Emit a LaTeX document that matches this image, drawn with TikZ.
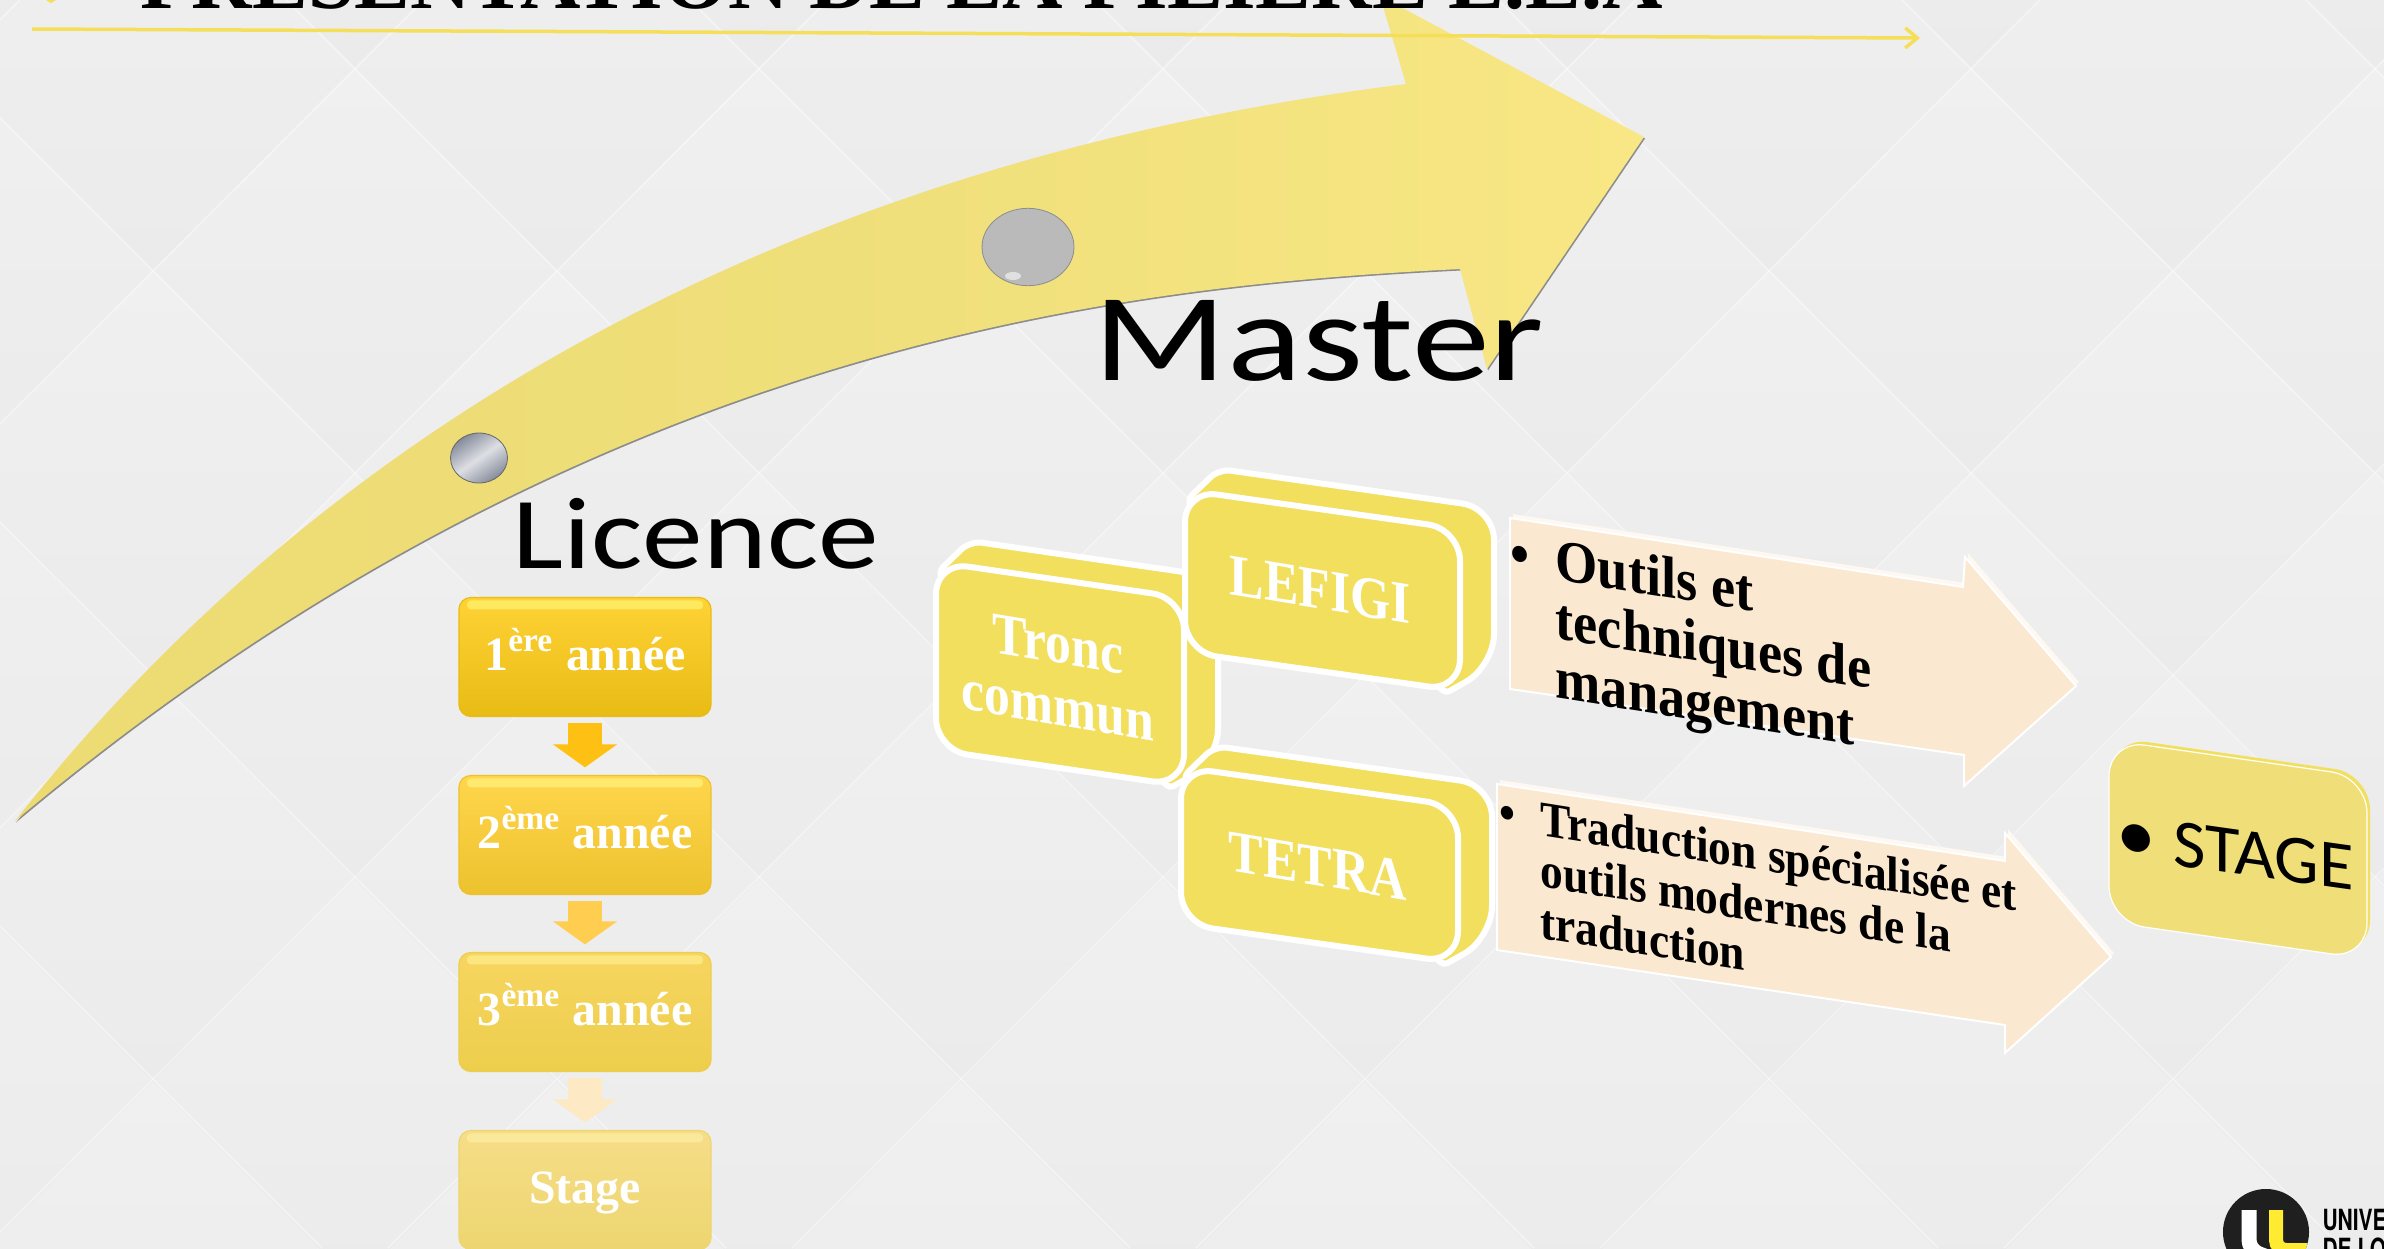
\documentclass[tikz,border=0pt]{standalone}
\usepackage{fontspec}
\setmainfont{Liberation Serif}
\newfontfamily\carlitofont{Carlito}
\newfontfamily\logofont{TeX Gyre Heros}
\usetikzlibrary{arrows.meta,positioning}
\def\flecheout{(1380,-4) -- (1644,137) -- (1487,369) -- (1460,269) .. controls (1150,285) and (600,330) .. (15,821) .. controls (330,420) and (800,160) .. (1406,84) -- cycle}
\def\outilsflat{(1510,518) -- (1963,587) -- (1965,557) -- (2076,686) -- (1964,786) -- (1964,755) -- (1510,689) -- cycle}
\def\tradflat{(1497,784) -- (2005,861) -- (2005,833) -- (2111,957) -- (2005,1053) -- (2005,1025) -- (1497,950) -- cycle}
\def\stageflat{(2109,740) -- (2367,777) -- (2367,959) -- (2109,922) -- cycle}
\definecolor{page back}{HTML}{EEEEEE}
\definecolor{cell top}{HTML}{F0F0F0}
\definecolor{cell low}{HTML}{EBEBEB}
\definecolor{slab fill}{HTML}{F2DF5E}
\definecolor{callout fill}{HTML}{FAE8D0}
\definecolor{rule yellow}{HTML}{F5DF5A}
\definecolor{fleche left}{HTML}{EDDB72}
\definecolor{fleche mid}{HTML}{EFDF7A}
\definecolor{fleche right}{HTML}{F8E784}
\definecolor{stage fill}{HTML}{F0DF78}
\definecolor{logo yellow}{HTML}{FFEB32}
\definecolor{ball edge}{HTML}{858B9B}
\definecolor{ball mid}{HTML}{DDDFE3}
\definecolor{one top}{HTML}{FFD236}
\definecolor{one low}{HTML}{E8BC14}
\definecolor{one strip}{HTML}{FFE95F}
\definecolor{two top}{HTML}{FFD64C}
\definecolor{two low}{HTML}{EDC22E}
\definecolor{two strip}{HTML}{FFE96F}
\definecolor{three top}{HTML}{F7D560}
\definecolor{three low}{HTML}{EDCE4C}
\definecolor{three strip}{HTML}{FBE67F}
\definecolor{four top}{HTML}{F6DD88}
\definecolor{four low}{HTML}{EDD670}
\definecolor{four strip}{HTML}{FAE99A}
\definecolor{step one}{HTML}{FFC014}
\definecolor{step two}{HTML}{FFCD50}
\definecolor{step three}{HTML}{FDE9C4}
\tikzset{x=.01cm,y=-.01cm,
	lattice/.style={white, opacity=.35, line width=.018cm},
	celltone/.style={top color=cell top, bottom color=cell low},
	slab/.style={fill=slab fill, draw=white, line width=.06cm, rounded corners=.32cm},
	callout/.style={fill=callout fill, draw=white, line width=.02cm, line join=miter},
	tilted/.style={xscale=#1, yslant=-.145, transform shape},
	slabtext/.style={text=white, align=center, tilted=.875, font=\fontsize{16.8}{17.6}\selectfont\bfseries},
	yearbox/.style n args={3}{rectangle, rounded corners=.12cm, top color=#1, bottom color=#2, draw=#2,
		line width=.012cm, minimum width=2.52cm, minimum height=1.19cm, inner sep=0pt, text=white,
		text height=.4cm, text depth=.14cm, font=\fontsize{13.6}{15}\selectfont\bfseries,
		path picture={\fill[#3, rounded corners=.04cm] ([xshift=.08cm,yshift=-.03cm]path picture bounding box.north west) rectangle ([xshift=-.08cm,yshift=-.12cm]path picture bounding box.north east);}},
	stepflow/.style={line width=.33cm, -{Triangle[width=.63cm,length=.23cm]}, shorten <=.06cm, shorten >=.075cm},
	biglabel/.style={text=black, inner sep=0pt, transform shape}}
\newcommand{\slabblock}[5]{
	\begin{scope}[shift={(#1,#2)}]
		\draw[slab] (4,8) [rounded corners=.12cm] -- (34,-21) [rounded corners=.32cm] -- (#3+34,#4-21) -- (#3+34,#4+#5-25) [rounded corners=.04cm] -- (#3-14,#4+#5+2) -- (#3-40,#4+#5-20) -- (8,40) -- cycle;
		\draw[slab] (0,0) -- (#3,#4) -- (#3,#4+#5) -- (0,#5) -- cycle;
	\end{scope}}

\begin{document}
\begin{tikzpicture}
		\useasboundingbox (0,0) rectangle (2384,1248);
		\fill[page back] (0,0) rectangle (2384,1248);
		\begin{scope}
			\clip (0,0) rectangle (2384,1248);
			\foreach \i in {-2,...,6} {
				\foreach \j in {-1,...,3} {
					\shade[celltone] (759+404*\i,67+406*\j) -- (961+404*\i,270+406*\j) -- (759+404*\i,473+406*\j) -- (557+404*\i,270+406*\j) -- cycle;
					\shade[celltone] (557+404*\i,270+406*\j) -- (759+404*\i,473+406*\j) -- (557+404*\i,676+406*\j) -- (355+404*\i,473+406*\j) -- cycle;
				}
			}
			\foreach \k in {-4,...,6} {
				\draw[lattice] (286+404*\k,0) -- (1534+404*\k,1248);
				\draw[lattice] (1232+404*\k,0) -- (-16+404*\k,1248);
			}
		\end{scope}
		\fill[rule yellow] (46,0) -- (56,0) -- (51,3) -- cycle;

		\fill[black!45, xshift=.01cm, yshift=-.015cm] \flecheout;
		\shade[left color=fleche left, right color=fleche right, middle color=fleche mid] \flecheout;
		\draw[black!60, line width=.008cm, top color=ball edge, bottom color=ball edge, middle color=ball mid, shading angle=35] (479,458) ellipse [x radius=28.5, y radius=25];
		\draw[black!45, line width=.008cm, fill=black!27] (1028,247) ellipse [x radius=46, y radius=38.7];
		\fill[black!12] (1013,276) ellipse [x radius=8, y radius=4];

		\node[font=\fontsize{23.8}{26}\selectfont\bfseries, anchor=base west, inner sep=0pt] (title) at (140,8) {PRÉSENTATION DE LA FILIÈRE L.E.A};
		\coordinate (rulestart) at (32,29);
		\coordinate (ruleend) at (1920,38);
		\draw[rule yellow, line width=.035cm, -{Straight Barb[width=.2cm,length=.12cm]}] (rulestart) -- (ruleend);

		\node[biglabel, font=\carlitofont\fontsize{35.5}{38}\selectfont, xscale=1.25, anchor=base west] (master) at (1093,380) {Master};
		\node[biglabel, font=\carlitofont\fontsize{29}{31}\selectfont, xscale=1.19, anchor=base west] (licence) at (512,568) {Licence};

		\node[yearbox={one top}{one low}{one strip}] (annee1) at (585,657) {1\textsuperscript{ère} année};
		\node[yearbox={two top}{two low}{two strip}] (annee2) at (585,835) {2\textsuperscript{ème} année};
		\node[yearbox={three top}{three low}{three strip}] (annee3) at (585,1012) {3\textsuperscript{ème} année};
		\node[yearbox={four top}{four low}{four strip}] (annee4) at (585,1190) {Stage};
		\draw[stepflow, draw=step one] (annee1) -- (annee2);
		\draw[stepflow, draw=step two] (annee2) -- (annee3);
		\draw[stepflow, draw=step three] (annee3) -- (annee4);

		\slabblock{936}{562}{248}{36}{188}
		\slabblock{1185}{490}{275}{39}{162}
		\slabblock{1181}{767}{277}{39}{157}
		\node[slabtext] (tronc) at (1058,675) {Tronc\\commun};
		\node[slabtext] (lefigi) at (1320,590) {LEFIGI};
		\node[slabtext] (tetra) at (1318,866) {TETRA};

		\fill[white!70!callout fill, xshift=.03cm, yshift=.04cm] \outilsflat;
		\draw[callout] \outilsflat;
		\fill[white!70!callout fill, xshift=.03cm, yshift=.04cm] \tradflat;
		\draw[callout] \tradflat;
		\node[tilted=.92, anchor=north west, align=left, inner sep=0pt, font=\fontsize{16.8}{16.8}\selectfont\bfseries] (outils) at (1555,538) {\llap{\textbullet\hspace{.28cm}}Outils et\\techniques de\\management};
		\node[tilted=.91, anchor=north west, align=left, inner sep=0pt, font=\fontsize{14.2}{14.6}\selectfont\bfseries] (traduction) at (1540,800) {\llap{\textbullet\hspace{.28cm}}Traduction spécialisée et\\outils modernes de la\\traduction};

		\fill[slab fill, xshift=.03cm, yshift=.03cm, rounded corners=.36cm] \stageflat;
		\draw[fill=stage fill, draw=white, line width=.012cm, rounded corners=.36cm] \stageflat;
		\node[tilted=1.03, font=\carlitofont\fontsize{19.5}{21}\selectfont, inner sep=0pt] (stage) at (2235,852) {{\fontsize{22}{22}\selectfont\textbullet}\hspace{.17cm}STAGE};

		\begin{scope}
			\fill[black!88] (2266,1232) circle [radius=.43cm];
			\clip (2266,1232) circle [radius=.43cm];
			\draw[white, line width=.15cm, rounded corners=.1cm] (2249,1210) -- (2249,1250) -- (2270,1258);
			\draw[logo yellow, line width=.14cm, rounded corners=.1cm] (2276,1210) -- (2276,1250) -- (2310,1250);
		\end{scope}
		\node[anchor=base west, inner sep=0pt, align=left, xscale=.72, transform shape, font=\logofont\fontsize{8.3}{8}\selectfont\bfseries] (logoname) at (2322,1259) {UNIVERSITÉ\\DE LORRAINE};
\end{tikzpicture}
\end{document}
